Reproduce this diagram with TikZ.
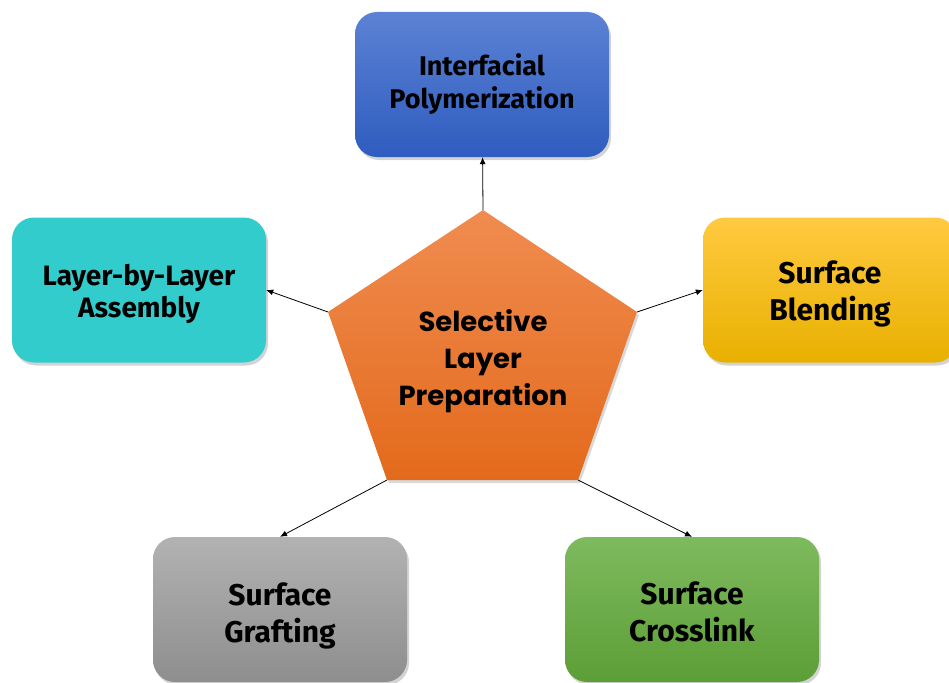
\documentclass[tikz,border=0pt]{standalone}
\usepackage{fontspec}
\setmainfont{Fira Sans}
\newfontfamily\pentafont{Poppins}
\usetikzlibrary{shadows,arrows.meta}

\definecolor{ipTop}{HTML}{5B82D4}
\definecolor{ipBot}{HTML}{2F5CBF}
\definecolor{lblFill}{HTML}{33CCCC}
\definecolor{sbTop}{HTML}{FFCA40}
\definecolor{sbBot}{HTML}{E8B000}
\definecolor{sgTop}{HTML}{B2B2B2}
\definecolor{sgBot}{HTML}{8E8E8E}
\definecolor{scTop}{HTML}{7EBA5E}
\definecolor{scBot}{HTML}{5C9E36}
\definecolor{slTop}{HTML}{F08C50}
\definecolor{slBot}{HTML}{E36A1C}

\newcommand{\lift}[1]{\rule{0pt}{#1pt}}

\begin{document}
\begin{tikzpicture}[x=1pt,y=-1pt,
    box/.style={rounded corners=22pt, minimum width=254pt, minimum height=145pt,
        align=center, font=\fontsize{27}{33}\selectfont\bfseries,
        drop shadow={shadow xshift=2pt,shadow yshift=-3pt,opacity=0.35}},
    bigtext/.style={font=\fontsize{30}{37}\selectfont\bfseries},
    link/.style={-{Latex[length=7pt,width=6pt]}, line width=0.8pt}]
    \useasboundingbox (0,0) rectangle (949,682);
    \clip (0,0) rectangle (949,682);
    % pentagon corners
    \coordinate (pt) at (483,210);
    \coordinate (pr) at (637,312);
    \coordinate (pbr) at (578,480);
    \coordinate (pbl) at (387,480);
    \coordinate (pl) at (328,312);
    \shade[top color=slTop, bottom color=slBot,
        drop shadow={shadow xshift=2pt,shadow yshift=-3pt,opacity=0.3}]
        (pt) -- (pr) -- (pbr) -- (pbl) -- (pl) -- cycle;
    \node[align=center, font=\pentafont\fontsize{27.5}{37}\selectfont\bfseries] (sel) at (483,360)
        {\lift{24.5}Selective\\Layer\\Preparation};
    % outer boxes
    \node[box, top color=ipTop, bottom color=ipBot] (ip) at (482,84.5) {Interfacial\\Polymerization};
    \node[box, fill=lblFill, font=\fontsize{28}{32}\selectfont\bfseries] (lbl) at (139,290) {\lift{29.5}Layer-by-Layer\\Assembly};
    \node[box, bigtext, top color=sbTop, bottom color=sbBot] (sb) at (830,290) {\lift{31}Surface\\Blending};
    \node[box, bigtext, top color=sgTop, bottom color=sgBot] (sg) at (280,609.5) {\lift{35}Surface\\Grafting};
    \node[box, bigtext, top color=scTop, bottom color=scBot] (sc) at (692,609.5) {\lift{27}Surface\\Crosslink};
    % connectors
    \draw[link] (pt) -- (ip);
    \draw[link] (pl) -- (lbl.east);
    \draw[link] (pr) -- (sb.west);
    \draw[link] (pbl) -- (sg.north);
    \draw[link] (pbr) -- (sc.north);
\end{tikzpicture}
\end{document}
